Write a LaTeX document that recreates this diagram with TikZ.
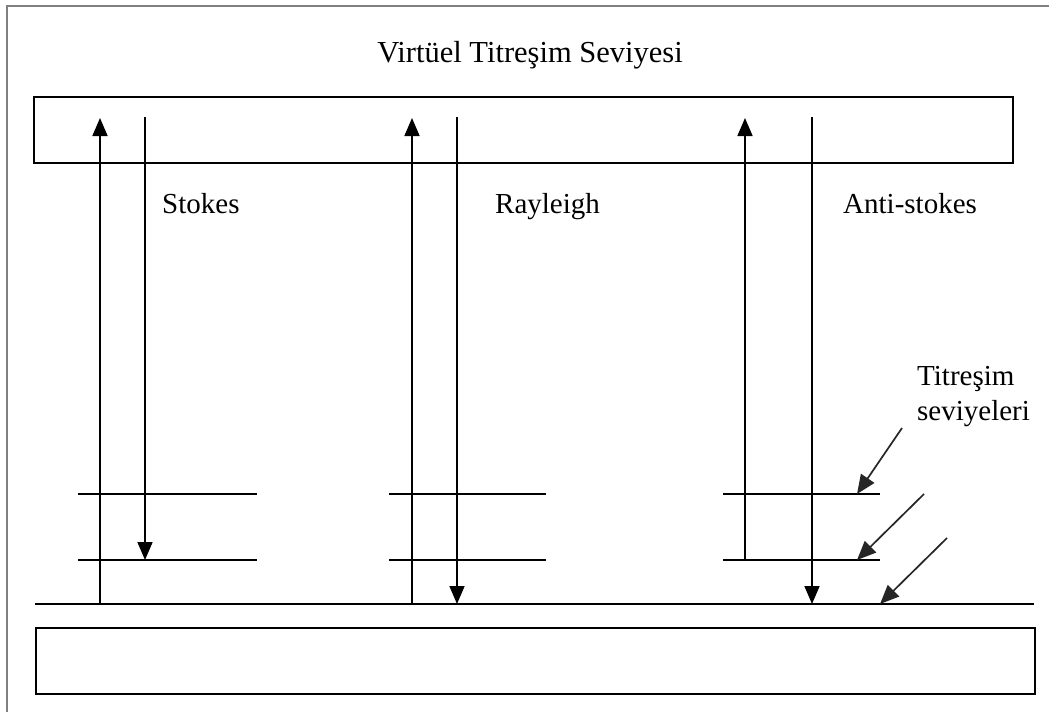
\documentclass[tikz,border=0pt]{standalone}
\usepackage{fontspec}
\setmainfont{Liberation Serif}
\usetikzlibrary{arrows.meta}
\begin{document}
\begin{tikzpicture}[x=1pt,y=-1pt,
  level/.style={line width=1.7pt,black},
  trans/.style={line width=1.7pt,black,-{Triangle[length=18pt,width=15pt]}},
  pointer/.style={line width=1.7pt,black!85,-{Triangle[length=19pt,width=16pt]}},
  band/.style={draw,line width=1.7pt,rectangle,inner sep=0pt,anchor=north west},
  lbl/.style={font=\fontsize{29}{33}\selectfont,inner sep=0pt},
  frameline/.style={line width=2pt,gray}]
\useasboundingbox (0,0) rectangle (1049,712);
\fill[white] (0,0) rectangle (1049,712);
% window frame
\draw[frameline] (7,712) -- (7,6) -- (1049,6);

% title and energy bands
\node[lbl,font=\fontsize{30.5}{34}\selectfont,anchor=base] (title) at (530,62) {Virtüel Titreşim Seviyesi};
\node[band,minimum width=979pt,minimum height=66pt] (virt) at (33,96) {};
\node[band,minimum width=999pt,minimum height=66pt] (lower) at (35,627) {};

% ground state line
\coordinate (g0) at (35,604);
\coordinate (g1) at (1034,604);
\draw[level] (g0) -- (g1);

% vibrational levels
\foreach \n/\a/\b in {s/78/257, r/389/546, a/723/880}{
  \coordinate (\n1l) at (\a,494); \coordinate (\n1r) at (\b,494);
  \coordinate (\n2l) at (\a,560); \coordinate (\n2r) at (\b,560);
  \draw[level] (\n1l) -- (\n1r);
  \draw[level] (\n2l) -- (\n2r);
}

% transition end points
\coordinate (sUpA) at (100,604); \coordinate (sUpB) at (100,118);
\coordinate (sDnA) at (145,117); \coordinate (sDnB) at (145,560);
\coordinate (rUpA) at (412,604); \coordinate (rUpB) at (412,118);
\coordinate (rDnA) at (457,117); \coordinate (rDnB) at (457,604);
\coordinate (aUpA) at (745,560); \coordinate (aUpB) at (745,118);
\coordinate (aDnA) at (812,117); \coordinate (aDnB) at (812,604);

\draw[trans] (sUpA) -- (sUpB);
\draw[trans] (sDnA) -- (sDnB);
\draw[trans] (rUpA) -- (rUpB);
\draw[trans] (rDnA) -- (rDnB);
\draw[trans] (aUpA) -- (aUpB);
\draw[trans] (aDnA) -- (aDnB);

% labels
\node[lbl,anchor=base west] (stokes) at (162,213) {Stokes};
\node[lbl,anchor=base west] (rayleigh) at (495,213) {Rayleigh};
\node[lbl,anchor=base west] (anti) at (843,213) {Anti-stokes};
\node[lbl,anchor=base west] (vib1) at (917,385) {Titreşim};
\node[lbl,anchor=base west] (vib2) at (917,420) {seviyeleri};

% pointers to the levels
\coordinate (p1a) at (902,428); \coordinate (p1b) at (857,494);
\coordinate (p2a) at (924,494); \coordinate (p2b) at (857,560);
\coordinate (p3a) at (947,538); \coordinate (p3b) at (880,604);
\draw[pointer] (p1a) -- (p1b);
\draw[pointer] (p2a) -- (p2b);
\draw[pointer] (p3a) -- (p3b);
\end{tikzpicture}
\end{document}
